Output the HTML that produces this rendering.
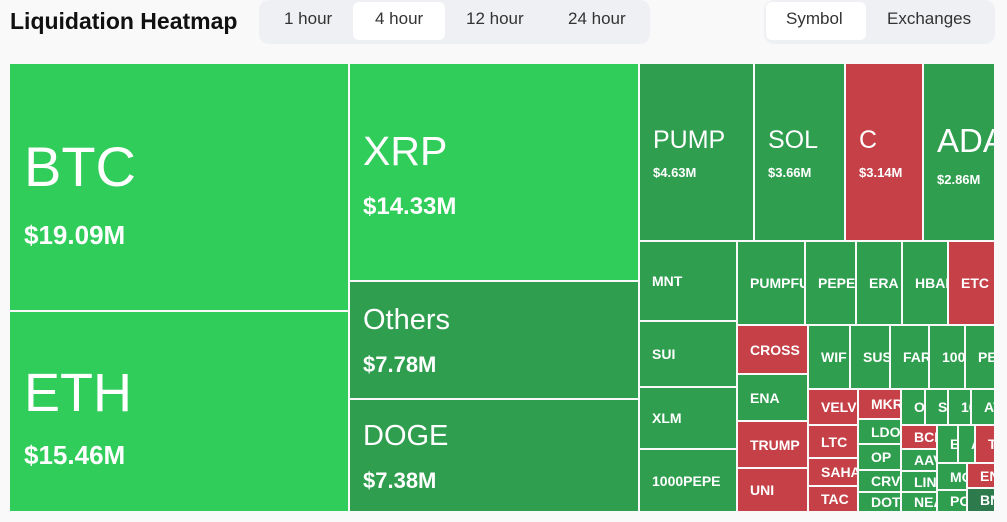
<!DOCTYPE html><html><head><style>
body{margin:0;width:1007px;height:522px;background:#f9f9f9;font-family:"Liberation Sans",sans-serif;position:relative;overflow:hidden}
.c{position:absolute;color:#fff;overflow:hidden;box-sizing:border-box;white-space:nowrap}
.g{background:#2f9e4f}.b{background:#31cd5a}.r{background:#c54047}.d{background:#2d7a4c}
.s{display:flex;align-items:center;padding-left:12px;font-size:14px;font-weight:bold}
.t{position:absolute;white-space:nowrap}
.tab{position:absolute;top:9px;font-size:17px;color:#333}
</style></head><body>
<div class="t" style="left:10px;top:8px;font-size:23px;font-weight:bold;color:#111">Liquidation Heatmap</div>
<div style="position:absolute;left:259px;top:0;width:391px;height:44px;background:#eef0f3;border-radius:10px"></div>
<div style="position:absolute;left:353px;top:2px;width:92px;height:38px;background:#fff;border-radius:6px"></div>
<div class="tab" style="left:284px">1 hour</div><div class="tab" style="left:375px">4 hour</div>
<div class="tab" style="left:466px">12 hour</div><div class="tab" style="left:568px">24 hour</div>
<div style="position:absolute;left:764px;top:0;width:231px;height:44px;background:#eef0f3;border-radius:10px"></div>
<div style="position:absolute;left:766px;top:2px;width:100px;height:38px;background:#fff;border-radius:6px"></div>
<div class="tab" style="left:786px">Symbol</div><div class="tab" style="left:887px">Exchanges</div>

<div class="c b" style="left:10px;top:64px;width:338px;height:246px"><div class="t" style="left:14px;top:70px;font-size:56px">BTC</div><div class="t" style="left:14px;top:156px;font-size:26px;font-weight:bold">$19.09M</div></div>
<div class="c b" style="left:10px;top:312px;width:338px;height:199px"><div class="t" style="left:14px;top:50px;font-size:54px">ETH</div><div class="t" style="left:14px;top:128px;font-size:26px;font-weight:bold">$15.46M</div></div>
<div class="c b" style="left:350px;top:64px;width:288px;height:216px"><div class="t" style="left:13px;top:64px;font-size:41px">XRP</div><div class="t" style="left:13px;top:129px;font-size:24px;font-weight:bold">$14.33M</div></div>
<div class="c g" style="left:350px;top:282px;width:288px;height:116px"><div class="t" style="left:13px;top:22px;font-size:29px">Others</div><div class="t" style="left:13px;top:70px;font-size:22px;font-weight:bold">$7.78M</div></div>
<div class="c g" style="left:350px;top:400px;width:288px;height:111px"><div class="t" style="left:13px;top:20px;font-size:29px">DOGE</div><div class="t" style="left:13px;top:68px;font-size:22px;font-weight:bold">$7.38M</div></div>

<div class="c g" style="left:640px;top:64px;width:113px;height:176px"><div class="t" style="left:13px;top:62px;font-size:25px">PUMP</div><div class="t" style="left:13px;top:101px;font-size:13px;font-weight:bold">$4.63M</div></div>
<div class="c g" style="left:755px;top:64px;width:89px;height:176px"><div class="t" style="left:13px;top:62px;font-size:25px">SOL</div><div class="t" style="left:13px;top:101px;font-size:13px;font-weight:bold">$3.66M</div></div>
<div class="c r" style="left:846px;top:64px;width:76px;height:176px"><div class="t" style="left:13px;top:62px;font-size:25px">C</div><div class="t" style="left:13px;top:101px;font-size:13px;font-weight:bold">$3.14M</div></div>
<div class="c g" style="left:924px;top:64px;width:70px;height:176px"><div class="t" style="left:13px;top:58px;font-size:33px">ADA</div><div class="t" style="left:13px;top:108px;font-size:13px;font-weight:bold">$2.86M</div></div>

<div class="c g s" style="left:640px;top:242px;width:96px;height:78px">MNT</div>
<div class="c g s" style="left:640px;top:322px;width:96px;height:64px">SUI</div>
<div class="c g s" style="left:640px;top:388px;width:96px;height:60px">XLM</div>
<div class="c g s" style="left:640px;top:450px;width:96px;height:61px">1000PEPE</div>
<div class="c g s" style="left:738px;top:242px;width:66px;height:82px">PUMPFUN</div>
<div class="c g s" style="left:806px;top:242px;width:49px;height:82px">PEPE</div>
<div class="c g s" style="left:857px;top:242px;width:44px;height:82px">ERA</div>
<div class="c g s" style="left:903px;top:242px;width:44px;height:82px">HBAR</div>
<div class="c r s" style="left:949px;top:242px;width:45px;height:82px">ETC</div>
<div class="c r s" style="left:738px;top:326px;width:69px;height:47px">CROSS</div>
<div class="c g s" style="left:738px;top:375px;width:69px;height:45px">ENA</div>
<div class="c r s" style="left:738px;top:422px;width:69px;height:45px">TRUMP</div>
<div class="c r s" style="left:738px;top:469px;width:69px;height:42px">UNI</div>
<div class="c g s" style="left:809px;top:326px;width:40px;height:62px">WIF</div>
<div class="c g s" style="left:851px;top:326px;width:38px;height:62px">SUSHI</div>
<div class="c g s" style="left:891px;top:326px;width:37px;height:62px">FARTCOIN</div>
<div class="c g s" style="left:930px;top:326px;width:34px;height:62px">1000</div>
<div class="c g s" style="left:966px;top:326px;width:28px;height:62px">PENGU</div>
<div class="c r s" style="left:809px;top:390px;width:48px;height:34px">VELVET</div>
<div class="c r s" style="left:809px;top:426px;width:48px;height:31px">LTC</div>
<div class="c r s" style="left:809px;top:459px;width:48px;height:26px">SAHARA</div>
<div class="c r s" style="left:809px;top:487px;width:48px;height:24px">TAC</div>
<div class="c r s" style="left:859px;top:390px;width:41px;height:28px">MKR</div>
<div class="c g s" style="left:859px;top:420px;width:41px;height:23px">LDO</div>
<div class="c g s" style="left:859px;top:445px;width:41px;height:24px">OP</div>
<div class="c g s" style="left:859px;top:471px;width:41px;height:20px">CRV</div>
<div class="c g s" style="left:859px;top:493px;width:41px;height:18px">DOT</div>
<div class="c g s" style="left:902px;top:390px;width:22px;height:34px">OM</div>
<div class="c g s" style="left:926px;top:390px;width:21px;height:34px">SEI</div>
<div class="c g s" style="left:949px;top:390px;width:21px;height:34px">1000</div>
<div class="c g s" style="left:972px;top:390px;width:22px;height:34px">AVAX</div>
<div class="c r s" style="left:902px;top:426px;width:34px;height:22px">BCH</div>
<div class="c g s" style="left:902px;top:450px;width:34px;height:20px">AAVE</div>
<div class="c g s" style="left:902px;top:472px;width:34px;height:19px">LINK</div>
<div class="c g s" style="left:902px;top:493px;width:34px;height:18px">NEAR</div>
<div class="c g s" style="left:938px;top:426px;width:19px;height:36px">E</div>
<div class="c g s" style="left:959px;top:426px;width:15px;height:36px">A</div>
<div class="c r s" style="left:976px;top:426px;width:18px;height:36px">T</div>
<div class="c g s" style="left:938px;top:464px;width:28px;height:25px">MOVE</div>
<div class="c g s" style="left:938px;top:491px;width:28px;height:20px">POL</div>
<div class="c r s" style="left:968px;top:464px;width:26px;height:23px">ENS</div>
<div class="c d s" style="left:968px;top:489px;width:26px;height:22px">BNB</div>
</body></html>
